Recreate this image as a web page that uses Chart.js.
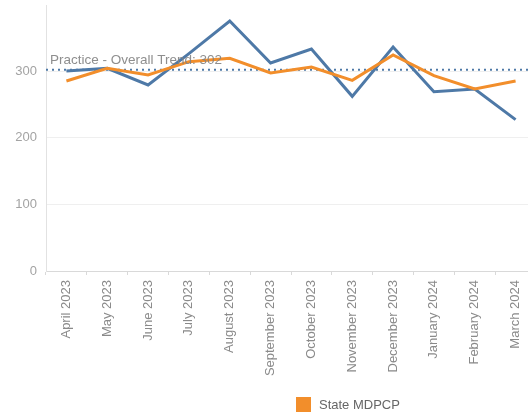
<!DOCTYPE html>
<html>
<head>
<meta charset="utf-8">
<script src="https://cdn.jsdelivr.net/npm/chart.js@4.4.1/dist/chart.umd.min.js"></script>
<style>
  html, body { margin: 0; padding: 0; background: #ffffff; overflow: hidden; width: 528px; height: 412px; }
  #wrap { position: relative; width: 528px; height: 412px; overflow: hidden; }
  canvas { position: absolute; left: 0; top: 0; }
  #legend { position: absolute; left: 296px; top: 397px; display: flex; align-items: center;
            font-family: "Liberation Sans", Arial, sans-serif; font-size: 13px; color: #666666; white-space: nowrap; }
  #legend .sw { width: 15px; height: 15px; background: #f28e2b; margin-right: 8px; }
</style>
</head>
<body>
<div id="wrap">
  <canvas id="chart" width="536" height="412"></canvas>
  <div id="legend"><span class="sw"></span><span>State MDPCP</span></div>
</div>
<script>
// Monthly categories
const months = [
  "April 2023", "May 2023", "June 2023", "July 2023", "August 2023", "September 2023",
  "October 2023", "November 2023", "December 2023", "January 2024", "February 2024", "March 2024"
];

// Practice values per month
const practiceValues = [300, 304, 279, 326, 375, 312, 333, 262, 336, 269, 273, 227];

// State MDPCP values per month
const stateValues = [285, 304, 294, 314, 319, 297, 306, 286, 324, 293, 273, 285];

// Overall practice trend reference value
const overallTrend = 302;
const overallTrendLabel = "Practice - Overall Trend: " + overallTrend;

// Value axis ticks
const yTicks = [0, 100, 200, 300];

const FONT = "'Liberation Sans', Arial, sans-serif";
const BLUE = "#4e79a7";
const ORANGE = "#f28e2b";

// Dotted horizontal reference line with its caption
const trendLine = {
  id: "trendLine",
  beforeDatasetsDraw(chart) {
    const { ctx, chartArea } = chart;
    const y = chart.scales.y.getPixelForValue(overallTrend);
    ctx.save();
    ctx.strokeStyle = BLUE;
    ctx.lineWidth = 2;
    ctx.setLineDash([2, 4]);
    ctx.beginPath();
    ctx.moveTo(chartArea.left, y);
    ctx.lineTo(chartArea.right, y);
    ctx.stroke();
    ctx.restore();
  },
  afterDatasetsDraw(chart) {
    const { ctx, chartArea } = chart;
    const y = chart.scales.y.getPixelForValue(overallTrend);
    ctx.save();
    ctx.font = "13.5px " + FONT;
    ctx.fillStyle = "rgba(130,130,130,0.9)";
    ctx.textAlign = "left";
    ctx.textBaseline = "alphabetic";
    ctx.fillText(overallTrendLabel, chartArea.left + 4, y - 6);
    ctx.restore();
  }
};

new Chart(document.getElementById("chart"), {
  type: "line",
  data: {
    labels: months,
    datasets: [
      {
        label: "Practice",
        data: practiceValues,
        borderColor: BLUE,
        backgroundColor: BLUE,
        borderWidth: 3,
        pointRadius: 0,
        tension: 0,
        order: 2
      },
      {
        label: "State MDPCP",
        data: stateValues,
        borderColor: ORANGE,
        backgroundColor: ORANGE,
        borderWidth: 3,
        pointRadius: 0,
        tension: 0,
        order: 1
      }
    ]
  },
  options: {
    responsive: false,
    animation: false,
    layout: { padding: { top: 5, right: 0, bottom: 0, left: 0 } },
    plugins: {
      legend: { display: false },
      tooltip: { enabled: false }
    },
    scales: {
      x: {
        type: "category",
        offset: true,
        grid: {
          offset: true,
          drawOnChartArea: false,
          drawTicks: true,
          tickLength: 4,
          tickColor: "#d9d9d9"
        },
        border: { display: true, color: "#d9d9d9", width: 1 },
        ticks: {
          autoSkip: false,
          minRotation: 90,
          maxRotation: 90,
          padding: 5,
          color: "#8a8a8a",
          font: { family: FONT, size: 13 }
        },
        afterFit(scale) {
          scale.height = 141;
          scale.paddingLeft = 0;
          scale.paddingRight = 0;
        }
      },
      y: {
        min: 0,
        max: 399,
        afterBuildTicks(scale) { scale.ticks = yTicks.map(v => ({ value: v })); },
        grid: {
          color: "#efefef",
          lineWidth: 1,
          drawTicks: false
        },
        border: { display: true, color: "#e2e2e2", width: 1 },
        ticks: {
          padding: 9,
          color: "#a3a3a3",
          font: { family: FONT, size: 13 }
        },
        afterFit(scale) {
          scale.width = 46;
          scale.paddingTop = 0;
          scale.paddingBottom = 0;
        }
      }
    }
  },
  plugins: [trendLine]
});
</script>
</body>
</html>
